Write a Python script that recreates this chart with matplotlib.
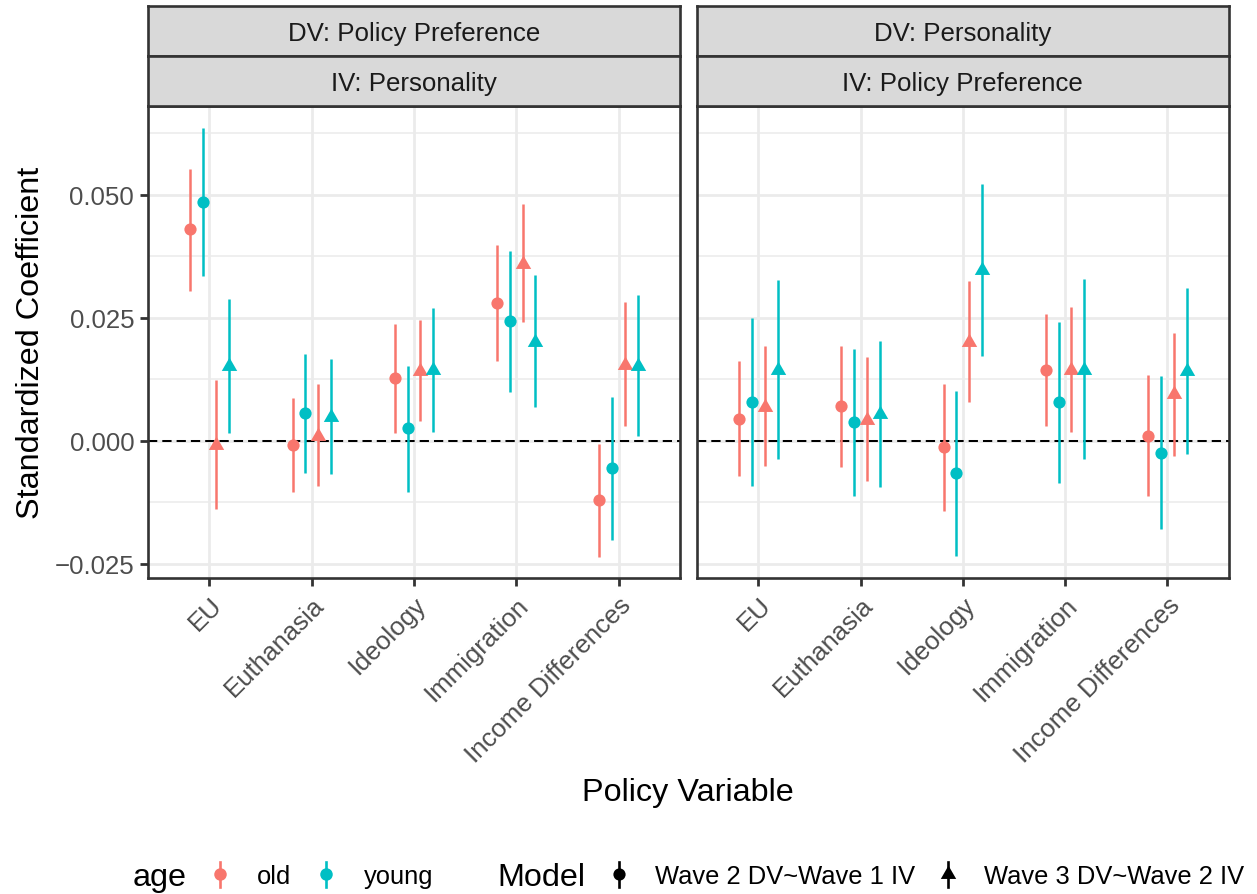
import matplotlib
matplotlib.use("Agg")
import matplotlib.pyplot as plt
from matplotlib.lines import Line2D
from matplotlib.legend_handler import HandlerBase
import numpy as np

plt.rcParams['font.family'] = ['Liberation Sans', 'DejaVu Sans']

# ---------------- data ----------------
categories = ["EU", "Euthanasia", "Ideology", "Immigration", "Income Differences"]
panel_dv = ["DV: Policy Preference", "DV: Personality"]
panel_iv = ["IV: Personality", "IV: Policy Preference"]
age_levels = ["old", "young"]
model_levels = ["Wave 2 DV~Wave 1 IV", "Wave 3 DV~Wave 2 IV"]

# Left panel: DV Policy Preference, IV Personality
pp_old_w2 = [0.0430, -0.0009, 0.0127, 0.0279, -0.0121]
pp_old_w2_lo = [0.0305, -0.0104, 0.0016, 0.0161, -0.0236]
pp_old_w2_hi = [0.0553, 0.0086, 0.0238, 0.0397, -0.0007]
pp_young_w2 = [0.0486, 0.0056, 0.0025, 0.0243, -0.0056]
pp_young_w2_lo = [0.0335, -0.0066, -0.0104, 0.0100, -0.0202]
pp_young_w2_hi = [0.0636, 0.0176, 0.0152, 0.0386, 0.0088]
pp_old_w3 = [-0.0008, 0.0010, 0.0142, 0.0360, 0.0153]
pp_old_w3_lo = [-0.0138, -0.0092, 0.0041, 0.0241, 0.0029]
pp_old_w3_hi = [0.0123, 0.0115, 0.0245, 0.0481, 0.0281]
pp_young_w3 = [0.0152, 0.0049, 0.0144, 0.0201, 0.0152]
pp_young_w3_lo = [0.0015, -0.0068, 0.0018, 0.0068, 0.0010]
pp_young_w3_hi = [0.0289, 0.0167, 0.0270, 0.0336, 0.0296]

# Right panel: DV Personality, IV Policy Preference
pe_old_w2 = [0.0045, 0.0071, -0.0013, 0.0144, 0.0010]
pe_old_w2_lo = [-0.0071, -0.0053, -0.0142, 0.0030, -0.0113]
pe_old_w2_hi = [0.0161, 0.0192, 0.0115, 0.0257, 0.0134]
pe_young_w2 = [0.0078, 0.0039, -0.0066, 0.0078, -0.0024]
pe_young_w2_lo = [-0.0092, -0.0112, -0.0234, -0.0085, -0.0180]
pe_young_w2_hi = [0.0249, 0.0186, 0.0102, 0.0241, 0.0131]
pe_old_w3 = [0.0069, 0.0042, 0.0201, 0.0144, 0.0095]
pe_old_w3_lo = [-0.0051, -0.0081, 0.0079, 0.0018, -0.0031]
pe_old_w3_hi = [0.0192, 0.0170, 0.0325, 0.0271, 0.0219]
pe_young_w3 = [0.0144, 0.0054, 0.0347, 0.0144, 0.0142]
pe_young_w3_lo = [-0.0038, -0.0094, 0.0172, -0.0038, -0.0026]
pe_young_w3_hi = [0.0327, 0.0203, 0.0521, 0.0329, 0.0311]

yticks = [-0.025, 0.0, 0.025, 0.050]
ytick_labels = ["\u22120.025", "0.000", "0.025", "0.050"]

# ---------------- styling ----------------
age_colors = {"old": "#F8766D", "young": "#00BFC4"}
tri_marker = [(0, 1), (-0.866, -0.5), (0.866, -0.5)]
model_markers = {model_levels[0]: "o", model_levels[1]: tri_marker}
model_ms = {model_levels[0]: 8.8, model_levels[1]: 12.8}
FS_SMALL = 18.6
FS_LEG = 18.4
FS_TITLE = 23.3

panels = [
    [("old", 0, pp_old_w2, pp_old_w2_lo, pp_old_w2_hi),
     ("young", 0, pp_young_w2, pp_young_w2_lo, pp_young_w2_hi),
     ("old", 1, pp_old_w3, pp_old_w3_lo, pp_old_w3_hi),
     ("young", 1, pp_young_w3, pp_young_w3_lo, pp_young_w3_hi)],
    [("old", 0, pe_old_w2, pe_old_w2_lo, pe_old_w2_hi),
     ("young", 0, pe_young_w2, pe_young_w2_lo, pe_young_w2_hi),
     ("old", 1, pe_old_w3, pe_old_w3_lo, pe_old_w3_hi),
     ("young", 1, pe_young_w3, pe_young_w3_lo, pe_young_w3_hi)],
]

W, H = 1257, 895
fig = plt.figure(figsize=(W / 100, H / 100), dpi=100)


def rect(x0, y0, x1, y1):
    return [x0 / W, 1 - y1 / H, (x1 - x0) / W, (y1 - y0) / H]


border = "#333333"
grid_c = "#EBEBEB"
panel_x = [(148, 680), (697, 1228.7)]
panel_top, panel_bot = 107.3, 579.3
strip_rows = [(7.3, 56.7), (56.7, 107.3)]

# y limits from data (5% expansion)
all_vals = []
for p in panels:
    for s in p:
        all_vals += list(s[3]) + list(s[4])
ymin, ymax = min(all_vals), max(all_vals)
pad = 0.05 * (ymax - ymin)
ylim = (ymin - pad, ymax + pad)

ngroups = 4
dodge = 0.5
offsets = (np.arange(ngroups) - (ngroups - 1) / 2) * dodge / ngroups
minor_y = [(yticks[i] + yticks[i + 1]) / 2 for i in range(len(yticks) - 1)]
minor_y = [yticks[0] - 0.0125] + minor_y + [yticks[-1] + 0.0125]

axes = []
for pi, (x0, x1) in enumerate(panel_x):
    ax = fig.add_axes(rect(x0, panel_top, x1, panel_bot))
    axes.append(ax)
    ax.set_xlim(-0.6, len(categories) - 1 + 0.6)
    ax.set_ylim(*ylim)
    ax.set_axisbelow(True)
    # grid
    for yy in minor_y:
        ax.axhline(yy, color=grid_c, lw=1.1, zorder=0)
    for yy in yticks:
        ax.axhline(yy, color=grid_c, lw=2.0, zorder=0)
    for xx in range(len(categories)):
        ax.axvline(xx, color=grid_c, lw=2.0, zorder=0)
    ax.axhline(0, color="black", lw=1.45, ls=(0, (4.6, 2.5)), zorder=1)

    xs = np.arange(len(categories))
    for gi, (age, mi, est, lo, hi) in enumerate(panels[pi]):
        xpos = xs + offsets[gi]
        col = age_colors[age]
        ax.vlines(xpos, lo, hi, color=col, lw=1.8, zorder=3)
        ax.plot(xpos, est, ls="none", marker=model_markers[model_levels[mi]],
                ms=model_ms[model_levels[mi]], color=col, mew=0, zorder=4)

    for sp in ax.spines.values():
        sp.set_color(border)
        sp.set_linewidth(1.9)
        sp.set_zorder(5)
    ax.set_xticks(xs)
    ax.set_xticklabels(categories, rotation=45, ha="right", va="top",
                       rotation_mode="anchor")
    ax.set_yticks(yticks)
    if pi == 0:
        ax.set_yticklabels(ytick_labels)
        ax.tick_params(axis="y", length=5.5, width=2.0, color=border,
                       labelcolor="#4D4D4D", labelsize=FS_SMALL, pad=4.4)
    else:
        ax.set_yticklabels([])
        ax.tick_params(axis="y", length=0)
    ax.tick_params(axis="x", length=5.5, width=2.0, color=border,
                   labelcolor="#4D4D4D", labelsize=FS_SMALL, pad=4.4)

    # strips
    for si, (sy0, sy1) in enumerate(strip_rows):
        sax = fig.add_axes(rect(x0, sy0, x1, sy1))
        sax.set_facecolor("#D9D9D9")
        sax.set_xticks([])
        sax.set_yticks([])
        for sp in sax.spines.values():
            sp.set_color(border)
            sp.set_linewidth(1.9)
        label = panel_dv[pi] if si == 0 else panel_iv[pi]
        base_y = (sy0 + sy1) / 2 + 9.5
        fig.text((x0 + x1) / 2 / W, 1 - base_y / H, label, ha="center",
                 va="baseline", fontsize=FS_SMALL, color="#1A1A1A")

# axis titles
fig.text(31 / W, 1 - (panel_top + panel_bot) / 2 / H, "Standardized Coefficient",
         rotation=90, ha="center", va="center", fontsize=FS_TITLE)
fig.text((148 + 1228.7) / 2 / W, 1 - 801 / H, "Policy Variable",
         ha="center", va="baseline", fontsize=FS_TITLE)


# legend
class HandlerPointRange(HandlerBase):
    def create_artists(self, legend, orig_handle, xdescent, ydescent,
                       width, height, fontsize, trans):
        cx = -xdescent + width / 2
        ln = Line2D([cx, cx], [-ydescent, -ydescent + height],
                    color=orig_handle.get_color(), lw=1.9, transform=trans)
        mk = Line2D([cx], [-ydescent + height / 2], ls="none",
                    marker=orig_handle.get_marker(),
                    ms=orig_handle.get_markersize(),
                    color=orig_handle.get_color(), mew=0, transform=trans)
        return [ln, mk]


leg_y = 1 - 876 / H
age_handles = [Line2D([], [], color=age_colors[a], marker="o", ms=9.0) for a in age_levels]
model_handles = [Line2D([], [], color="black", marker=model_markers[m], ms=model_ms[m])
                 for m in model_levels]

common = dict(loc="center left", frameon=False, borderpad=0, borderaxespad=0,
              handlelength=1.0, handleheight=1.1, fontsize=FS_LEG, ncol=2,
              handler_map={Line2D: HandlerPointRange()})
leg1 = fig.legend(age_handles, age_levels, bbox_to_anchor=(207 / W, leg_y),
                  handletextpad=0.95, columnspacing=0.88, **common)
leg2 = fig.legend(model_handles, model_levels, bbox_to_anchor=(606 / W, leg_y),
                  handletextpad=0.9, columnspacing=0.82, **common)
fig.text(133 / W, 1 - 886 / H, "age", ha="left", va="baseline", fontsize=FS_TITLE)
fig.text(497 / W, 1 - 886 / H, "Model", ha="left", va="baseline", fontsize=FS_TITLE)

fig.savefig("out.png", dpi=100)
